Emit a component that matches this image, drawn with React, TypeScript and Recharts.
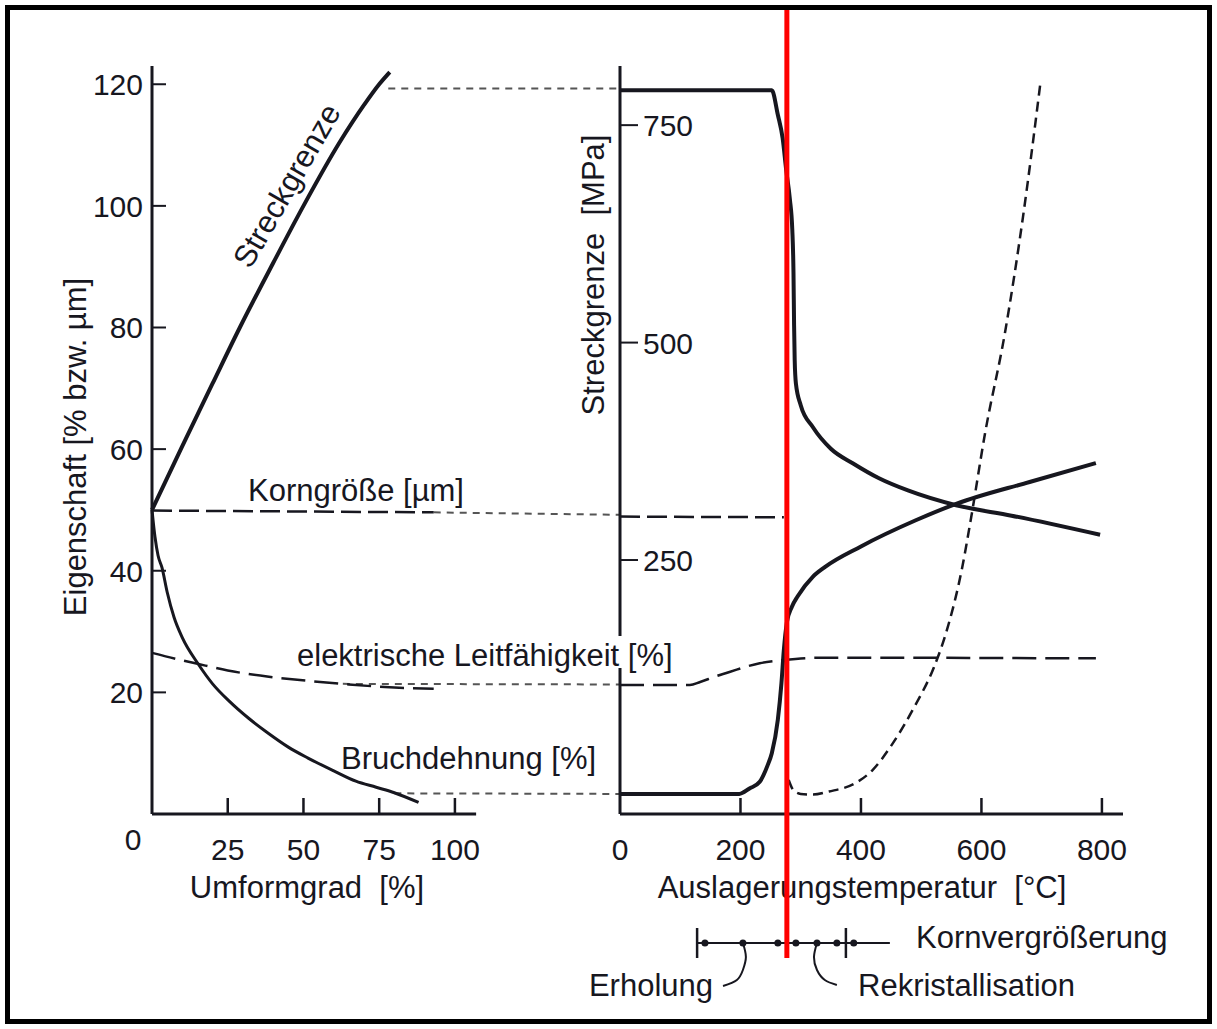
import React from "react";
import { LineChart, Line, XAxis, YAxis, ReferenceLine, ReferenceDot } from "recharts";

type Pt = { x: number; y: number };

// ---- left panel: Umformgrad [%] -> Eigenschaft [% bzw. µm]
const umformTicks = [25, 50, 75, 100];
const eigenschaftTicks = [0, 20, 40, 60, 80, 100, 120];

const streckLeft: Pt[] = [
  { x: 0, y: 50 }, { x: 10, y: 60.5 }, { x: 20, y: 70.8 }, { x: 29, y: 80 },
  { x: 40, y: 90.6 }, { x: 50, y: 100 }, { x: 62, y: 110.5 }, { x: 70, y: 116.6 },
  { x: 75, y: 120 }, { x: 78.5, y: 122 },
];
const kornLeft: Pt[] = [{ x: 0, y: 49.9 }, { x: 93, y: 49.6 }];
const leitLeft: Pt[] = [
  { x: 0, y: 26.5 }, { x: 8, y: 25.5 }, { x: 15, y: 24.7 }, { x: 25, y: 23.6 },
  { x: 38, y: 22.6 }, { x: 51.5, y: 21.9 }, { x: 65, y: 21.3 }, { x: 80, y: 20.8 },
  { x: 93, y: 20.6 },
];
const bruchLeft: Pt[] = [
  { x: 0, y: 50 }, { x: 1, y: 45.5 }, { x: 2, y: 42.5 }, { x: 3.3, y: 40.5 },
  { x: 5, y: 36.5 }, { x: 7.3, y: 32.3 }, { x: 10, y: 29 }, { x: 15.2, y: 24.7 },
  { x: 20, y: 21.4 }, { x: 25.4, y: 18.6 }, { x: 32, y: 15.7 }, { x: 38.6, y: 13.2 },
  { x: 45, y: 11 }, { x: 51.5, y: 9.2 }, { x: 60, y: 7.1 }, { x: 67.3, y: 5.4 },
  { x: 74, y: 4.4 }, { x: 80, y: 3.5 }, { x: 88, y: 1.9 },
];
// dotted links from the left panel over to the right axis
const streckLink: Pt[] = [{ x: 78, y: 119.3 }, { x: 154.5, y: 119.3 }];
const kornLink: Pt[] = [{ x: 93, y: 49.6 }, { x: 154.5, y: 49.2 }];
const leitLink: Pt[] = [{ x: 63, y: 21.4 }, { x: 154.5, y: 21.3 }];
const bruchLink: Pt[] = [{ x: 80, y: 3.4 }, { x: 154.5, y: 3.3 }];

// ---- right panel: Auslagerungstemperatur [°C]
const tempTicks = [0, 200, 400, 600, 800];
const mpaTicks = [250, 500, 750];

const streckRight: Pt[] = [
  { x: 0, y: 790 }, { x: 252, y: 790 }, { x: 262, y: 762 }, { x: 270, y: 735 },
  { x: 276, y: 698 }, { x: 282, y: 665 }, { x: 286, y: 630 }, { x: 288, y: 580 },
  { x: 289, y: 520 }, { x: 290, y: 480 }, { x: 292, y: 453 }, { x: 300, y: 428 },
  { x: 320, y: 403 }, { x: 350, y: 378 }, { x: 387, y: 361 }, { x: 430, y: 344 },
  { x: 478, y: 330 }, { x: 558, y: 313 }, { x: 650, y: 301 }, { x: 797, y: 279 },
];
const bruchRight: Pt[] = [
  { x: 0, y: 3.3 }, { x: 198, y: 3.3 }, { x: 215, y: 4.2 }, { x: 232, y: 5.3 },
  { x: 245, y: 8 }, { x: 252, y: 10 }, { x: 262, y: 15.5 }, { x: 268, y: 21.5 },
  { x: 272, y: 27 }, { x: 277, y: 31.5 }, { x: 285, y: 34 }, { x: 295, y: 35.8 },
  { x: 320, y: 39 }, { x: 340, y: 40.6 }, { x: 400, y: 44 }, { x: 491, y: 48.3 },
  { x: 558, y: 51 }, { x: 680, y: 54.6 }, { x: 790, y: 57.7 },
];
const kornRight: Pt[] = [{ x: 0, y: 48.9 }, { x: 272, y: 48.8 }];
const kornRightNew: Pt[] = [
  { x: 280, y: 5.6 }, { x: 288, y: 3.9 }, { x: 300, y: 3.3 }, { x: 320, y: 3.2 },
  { x: 347, y: 3.7 }, { x: 393, y: 5.2 }, { x: 420, y: 7.3 }, { x: 448, y: 10.9 },
  { x: 488, y: 17.5 }, { x: 521, y: 24.1 }, { x: 541, y: 29.7 }, { x: 568, y: 40.5 },
  { x: 583, y: 48.8 }, { x: 606, y: 62.6 }, { x: 639, y: 79.1 }, { x: 669, y: 98.2 },
  { x: 698, y: 120.3 },
];
const leitRight: Pt[] = [
  { x: 0, y: 21.2 }, { x: 116, y: 21.2 }, { x: 133, y: 21.7 }, { x: 158, y: 22.6 },
  { x: 183, y: 23.4 }, { x: 232, y: 24.8 }, { x: 271, y: 25.3 }, { x: 332, y: 25.7 },
  { x: 790, y: 25.6 },
];

// ---- stage bar below the temperature axis (°C)
const stageBar = [128, 448];
const stageEnds = [128, 375];
const stageDots = [141, 204, 262, 292, 327, 360, 388];
const erholungHook: Pt[] = [
  { x: 204, y: 6 }, { x: 209, y: 4.6 }, { x: 204, y: 3.3 }, { x: 194, y: 2.3 }, { x: 171, y: 1.7 },
];
const rekristHook: Pt[] = [
  { x: 327, y: 6 }, { x: 322, y: 4.6 }, { x: 327, y: 3.3 }, { x: 340, y: 2.3 }, { x: 360, y: 1.8 },
];
const markerTemp = 277;

const FONT = '"Liberation Sans", Arial, Helvetica, sans-serif';
const INK = "#17171f";
const LINK = "#555";

function LeftYTick(props: any) {
  const { x, y, payload } = props;
  if (payload.value === 0) {
    return (
      <text x={x - 19} y={y + 36} textAnchor="middle" fontSize={30} fontFamily={FONT} fill={INK}>
        0
      </text>
    );
  }
  return (
    <g>
      <line x1={x} y1={y} x2={x + 14} y2={y} stroke={INK} strokeWidth={2} />
      <text x={x - 9} y={y + 11} textAnchor="end" fontSize={30} fontFamily={FONT} fill={INK}>
        {payload.value}
      </text>
    </g>
  );
}

function MpaTick(props: any) {
  const { x, y, payload } = props;
  return (
    <g>
      <line x1={x} y1={y} x2={x + 18} y2={y} stroke={INK} strokeWidth={2} />
      <text x={x + 23} y={y + 11} textAnchor="start" fontSize={30} fontFamily={FONT} fill={INK}>
        {payload.value}
      </text>
    </g>
  );
}

function BottomTick(props: any) {
  const { x, y, payload } = props;
  return (
    <g>
      {payload.value !== 0 && <line x1={x} y1={y} x2={x} y2={y - 16} stroke={INK} strokeWidth={2.5} />}
      <text x={x} y={y + 46} textAnchor="middle" fontSize={30} fontFamily={FONT} fill={INK}>
        {payload.value}
      </text>
    </g>
  );
}

const axisStroke = { stroke: INK, strokeWidth: 3 };

function LeftPanel() {
  return (
    <LineChart width={620} height={914} margin={{ top: 66, right: 0, bottom: 0, left: 0 }}>
      <XAxis
        dataKey="x"
        type="number"
        domain={[0, 154.5]}
        ticks={umformTicks}
        interval={0}
        height={100}
        axisLine={false}
        tickLine={false}
        tickSize={0}
        tickMargin={0}
        tick={(p: any) => <BottomTick {...p} />}
      />
      <YAxis
        type="number"
        domain={[0, 123]}
        ticks={eigenschaftTicks}
        interval={0}
        width={152}
        axisLine={axisStroke}
        tickLine={false}
        tickSize={0}
        tickMargin={0}
        tick={(p: any) => <LeftYTick {...p} />}
      />
      <ReferenceLine segment={[{ x: 0, y: 0 }, { x: 107, y: 0 }]} stroke={INK} strokeWidth={3} />
      <Line data={streckLink} dataKey="y" type="linear" stroke={LINK} strokeWidth={2} strokeDasharray="7 6" dot={false} activeDot={false} isAnimationActive={false} />
      <Line data={kornLink} dataKey="y" type="linear" stroke={LINK} strokeWidth={2} strokeDasharray="7 6" dot={false} activeDot={false} isAnimationActive={false} />
      <Line data={leitLink} dataKey="y" type="linear" stroke={LINK} strokeWidth={2} strokeDasharray="7 6" dot={false} activeDot={false} isAnimationActive={false} />
      <Line data={bruchLink} dataKey="y" type="linear" stroke={LINK} strokeWidth={2} strokeDasharray="7 6" dot={false} activeDot={false} isAnimationActive={false} />
      <Line data={kornLeft} dataKey="y" type="linear" stroke={INK} strokeWidth={2.5} strokeDasharray="20 7" dot={false} activeDot={false} isAnimationActive={false} />
      <Line data={leitLeft} dataKey="y" type="monotone" stroke={INK} strokeWidth={2.5} strokeDasharray="24 9" dot={false} activeDot={false} isAnimationActive={false} />
      <Line data={bruchLeft} dataKey="y" type="monotone" stroke={INK} strokeWidth={3} dot={false} activeDot={false} isAnimationActive={false} />
      <Line data={streckLeft} dataKey="y" type="monotone" stroke={INK} strokeWidth={4} dot={false} activeDot={false} isAnimationActive={false} />
    </LineChart>
  );
}

function RightPanel() {
  return (
    <LineChart width={1217} height={914} margin={{ top: 66, right: 94, bottom: 0, left: 0 }}>
      <XAxis
        dataKey="x"
        type="number"
        domain={[0, 835]}
        ticks={tempTicks}
        interval={0}
        height={100}
        axisLine={axisStroke}
        tickLine={false}
        tickSize={0}
        tickMargin={0}
        tick={(p: any) => <BottomTick {...p} />}
      />
      <YAxis
        yAxisId="mpa"
        type="number"
        domain={[-42, 818]}
        ticks={mpaTicks}
        interval={0}
        width={620}
        axisLine={axisStroke}
        tickLine={false}
        tickSize={0}
        tickMargin={0}
        tick={(p: any) => <MpaTick {...p} />}
      />
      <YAxis yAxisId="eig" orientation="right" type="number" domain={[0, 123]} width={0} hide />
      <Line yAxisId="eig" data={kornRight} dataKey="y" type="linear" stroke={INK} strokeWidth={2.5} strokeDasharray="20 7" dot={false} activeDot={false} isAnimationActive={false} />
      <Line yAxisId="eig" data={leitRight} dataKey="y" type="monotone" stroke={INK} strokeWidth={2.5} strokeDasharray="24 9" dot={false} activeDot={false} isAnimationActive={false} />
      <Line yAxisId="eig" data={kornRightNew} dataKey="y" type="monotone" stroke={INK} strokeWidth={2.5} strokeDasharray="10 6" dot={false} activeDot={false} isAnimationActive={false} />
      <Line yAxisId="eig" data={bruchRight} dataKey="y" type="monotone" stroke={INK} strokeWidth={4} dot={false} activeDot={false} isAnimationActive={false} />
      <Line yAxisId="mpa" data={streckRight} dataKey="y" type="monotone" stroke={INK} strokeWidth={4} dot={false} activeDot={false} isAnimationActive={false} />
    </LineChart>
  );
}

function StageOverlay() {
  return (
    <LineChart width={1217} height={1029} margin={{ top: 10, right: 94, bottom: 26, left: 620 }}>
      <XAxis dataKey="x" type="number" domain={[0, 835]} height={0} hide />
      <YAxis type="number" domain={[0, 99.3]} width={0} hide />
      <ReferenceLine segment={[{ x: stageBar[0], y: 6 }, { x: stageBar[1], y: 6 }]} stroke={INK} strokeWidth={2} />
      {stageEnds.map((t) => (
        <ReferenceLine key={"e" + t} segment={[{ x: t, y: 4.5 }, { x: t, y: 7.5 }]} stroke={INK} strokeWidth={2.5} />
      ))}
      {stageDots.map((t) => (
        <ReferenceDot key={"d" + t} x={t} y={6} r={3.5} fill={INK} stroke="none" />
      ))}
      <Line data={erholungHook} dataKey="y" type="natural" stroke={INK} strokeWidth={2} dot={false} activeDot={false} isAnimationActive={false} />
      <Line data={rekristHook} dataKey="y" type="natural" stroke={INK} strokeWidth={2} dot={false} activeDot={false} isAnimationActive={false} />
      <ReferenceLine segment={[{ x: markerTemp, y: 4.5 }, { x: markerTemp, y: 99.3 }]} stroke="#ff0000" strokeWidth={5} />
    </LineChart>
  );
}

function Labels() {
  const t = { fontSize: 31, fontFamily: FONT, fill: INK, style: { whiteSpace: "pre" as const } };
  return (
    <svg width={1217} height={1029} style={{ position: "absolute", left: 0, top: 0 }}>
      <text {...t} x={86} y={447} textAnchor="middle" transform="rotate(-90 86 447)">
        Eigenschaft [% bzw. µm]
      </text>
      <text {...t} x={604} y={275} textAnchor="middle" transform="rotate(-90 604 275)">
        {"Streckgrenze  [MPa]"}
      </text>
      <text {...t} x={296} y={191} textAnchor="middle" transform="rotate(-60 296 191)">
        Streckgrenze
      </text>
      <text {...t} x={248} y={501}>Korngröße [µm]</text>
      <rect x={292} y={636} width={392} height={32} fill="#fff" />
      <text {...t} x={297} y={666}>elektrische Leitfähigkeit [%]</text>
      <text {...t} x={341} y={769}>Bruchdehnung [%]</text>
      <text {...t} x={307} y={898} textAnchor="middle">{"Umformgrad  [%]"}</text>
      <text {...t} x={862} y={898} textAnchor="middle">{"Auslagerungstemperatur  [°C]"}</text>
      <text {...t} x={713} y={996} textAnchor="end">Erholung</text>
      <text {...t} x={858} y={996}>Rekristallisation</text>
      <text {...t} x={916} y={948}>Kornvergrößerung</text>
    </svg>
  );
}

export default function App() {
  return (
    <div style={{ position: "absolute", left: 0, top: 0, width: 1217, height: 1029, background: "#fff", overflow: "hidden" }}>
      <div
        style={{
          position: "absolute",
          left: 5,
          top: 5,
          width: 1207,
          height: 1019,
          border: "5px solid #000",
          boxSizing: "border-box",
        }}
      />
      <div style={{ position: "absolute", left: 0, top: 0 }}>
        <LeftPanel />
      </div>
      <div style={{ position: "absolute", left: 0, top: 0 }}>
        <RightPanel />
      </div>
      <Labels />
      <div style={{ position: "absolute", left: 0, top: 0 }}>
        <StageOverlay />
      </div>
    </div>
  );
}
